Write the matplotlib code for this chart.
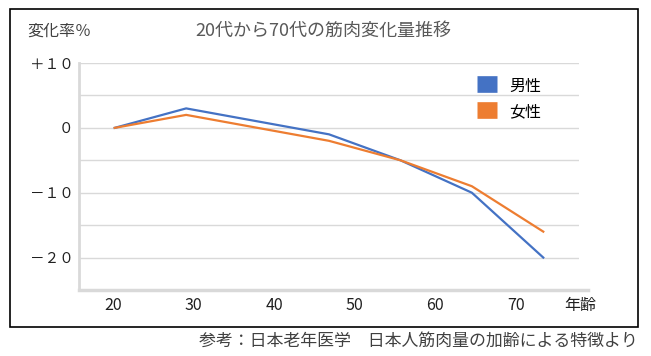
import matplotlib.pyplot as plt
from matplotlib.patches import Rectangle
from matplotlib.lines import Line2D
from matplotlib.transforms import blended_transform_factory

plt.rcParams['font.family'] = ['Noto Sans CJK JP', 'DejaVu Sans']

# data (category slots 0..6, slot 2 has no point)
slots = [0, 1, 3, 4, 5, 6]
male = [0, 3, -1, -5, -10, -20]
female = [0, 2, -2, -5, -9, -16]

ages = [20, 30, 40, 50, 60, 70]
ytick_vals = [10, 0, -10, -20]
ytick_text = ["＋１０", "０", "－１０", "－２０"]

title = "20代から70代の筋肉変化量推移"
source = "参考：日本老年医学　日本人筋肉量の加齢による特徴より"

blue = "#4472C4"
orange = "#ED7D31"
grid = "#d9d9d9"
txt = "#404040"

W, H = 651, 356
fig = plt.figure(figsize=(W / 100, H / 100), dpi=100)

# outer frame
fig.patches.append(Rectangle((10 / W, (H - 327) / H), 628 / W, 318 / H,
                             transform=fig.transFigure, fill=False,
                             edgecolor="black", linewidth=1.2))

ax = fig.add_axes([79 / W, (H - 290) / H, 500 / W, 227 / H])
ax.set_xlim(-0.5, 6.5)
ax.set_ylim(-25, 10)

ax.plot(slots, male, color=blue, linewidth=1.6, label="男性")
ax.plot(slots, female, color=orange, linewidth=1.6, label="女性")

ax.set_yticks(ytick_vals)
ax.set_yticks(range(-25, 11, 5), minor=True)
ax.yaxis.grid(True, which="both", color=grid, linewidth=1)
ax.set_yticklabels(ytick_text, fontsize=10.5, color="#202020")
ax.tick_params(axis="y", length=0, pad=4)
ax.tick_params(axis="y", which="minor", length=0)

ax.set_xticks([(a - 20) * 0.1127 - 0.02 for a in ages])
ax.set_xticklabels([str(a) for a in ages], fontsize=11.5, color="#202020")
ax.tick_params(axis="x", length=0, pad=5)

for s in ["top", "right", "bottom"]:
    ax.spines[s].set_visible(False)
ax.spines["left"].set_color(grid)
ax.spines["left"].set_linewidth(2)
ax.set_axisbelow(True)

# bottom axis line runs a bit past the gridlines
ax.add_line(Line2D([0, 509 / 500], [0, 0], transform=ax.transAxes,
                   color=grid, linewidth=2.5, clip_on=False))

trans = blended_transform_factory(ax.transAxes, ax.transAxes)
ax.text(1.002, -0.068, "年齢", transform=trans, ha="center", va="center",
        fontsize=11.5, color="#202020")

leg = ax.legend(loc="upper left", bbox_to_anchor=(384 / 500, 1.0),
                frameon=False, fontsize=11.5, handlelength=1.2,
                handleheight=1.1, handletextpad=0.8, labelspacing=0.55)
for h in leg.legend_handles:
    h.set_linewidth(12)
    h.set_solid_capstyle("butt")

fig.text(27 / W, 1 - 31 / H, "変化率％", fontsize=11.5, color=txt,
         ha="left", va="center")
fig.text(323 / W, 1 - 31 / H, title, fontsize=13, color="#595959",
         ha="center", va="center")
fig.text(638 / W, 1 - 341 / H, source, fontsize=12.2, color=txt,
         ha="right", va="center")

fig.savefig("out.png", dpi=100)
